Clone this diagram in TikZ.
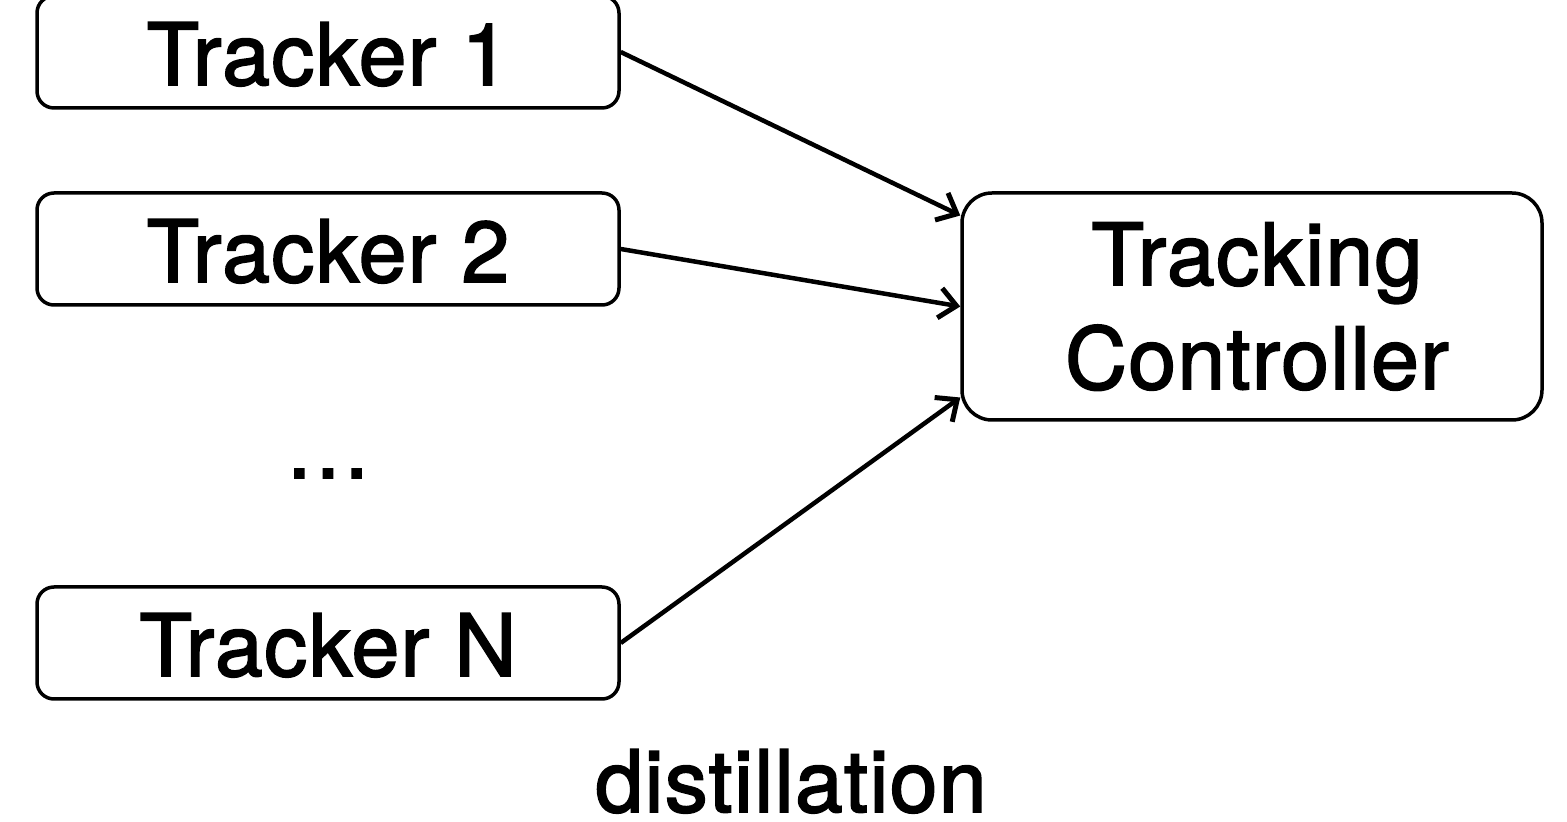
\documentclass[tikz,border=0pt]{standalone}
\usepackage{fontspec}
\setmainfont{TeX Gyre Heros}
\newfontfamily\labelfont{TeX Gyre Heros}[FakeBold=2, LetterSpace=1.5]
\usetikzlibrary{arrows.meta,positioning}
\begin{document}
\begin{tikzpicture}[x=1pt,y=1pt,
  bigtext/.style={font=\labelfont\fontsize{86}{104}\selectfont},
  trackerbox/.style={draw, line width=3.5pt, rounded corners=17pt, inner sep=0pt,
    minimum width=582pt, minimum height=112pt, text height=66pt, text depth=0pt,
    bigtext},
  ctlbox/.style={draw, line width=3.5pt, rounded corners=30pt, inner sep=0pt,
    minimum width=580pt, minimum height=227pt, align=center, bigtext},
  feed/.style={line width=4.5pt, -{Straight Barb[length=17pt,width=30pt,line width=5pt]}},
  plain/.style={inner sep=0pt, bigtext}
]
\useasboundingbox (0,0) rectangle (1567,822);

\node[trackerbox] (t1) at (328,770) {Tracker 1};
\node[trackerbox] (t2) at (328,573) {Tracker 2};
\node[trackerbox] (tn) at (328,179) {Tracker N};
\node[plain, anchor=base] (dots) at (328,344) {…};

\node[ctlbox] (ctl) at (1252,515.5) {\hspace*{10pt}Tracking\\\hspace*{10pt}Controller};

\coordinate (in1) at ([yshift=91pt]ctl.west);
\coordinate (in2) at (ctl.west);
\coordinate (in3) at ([yshift=-91pt]ctl.west);

\draw[feed] (t1.east) -- (in1);
\draw[feed] (t2.east) -- (in2);
\draw[feed] (tn.east) -- (in3);

\node[plain, anchor=base] (label) at (791,10) {distillation};
\end{tikzpicture}
\end{document}
